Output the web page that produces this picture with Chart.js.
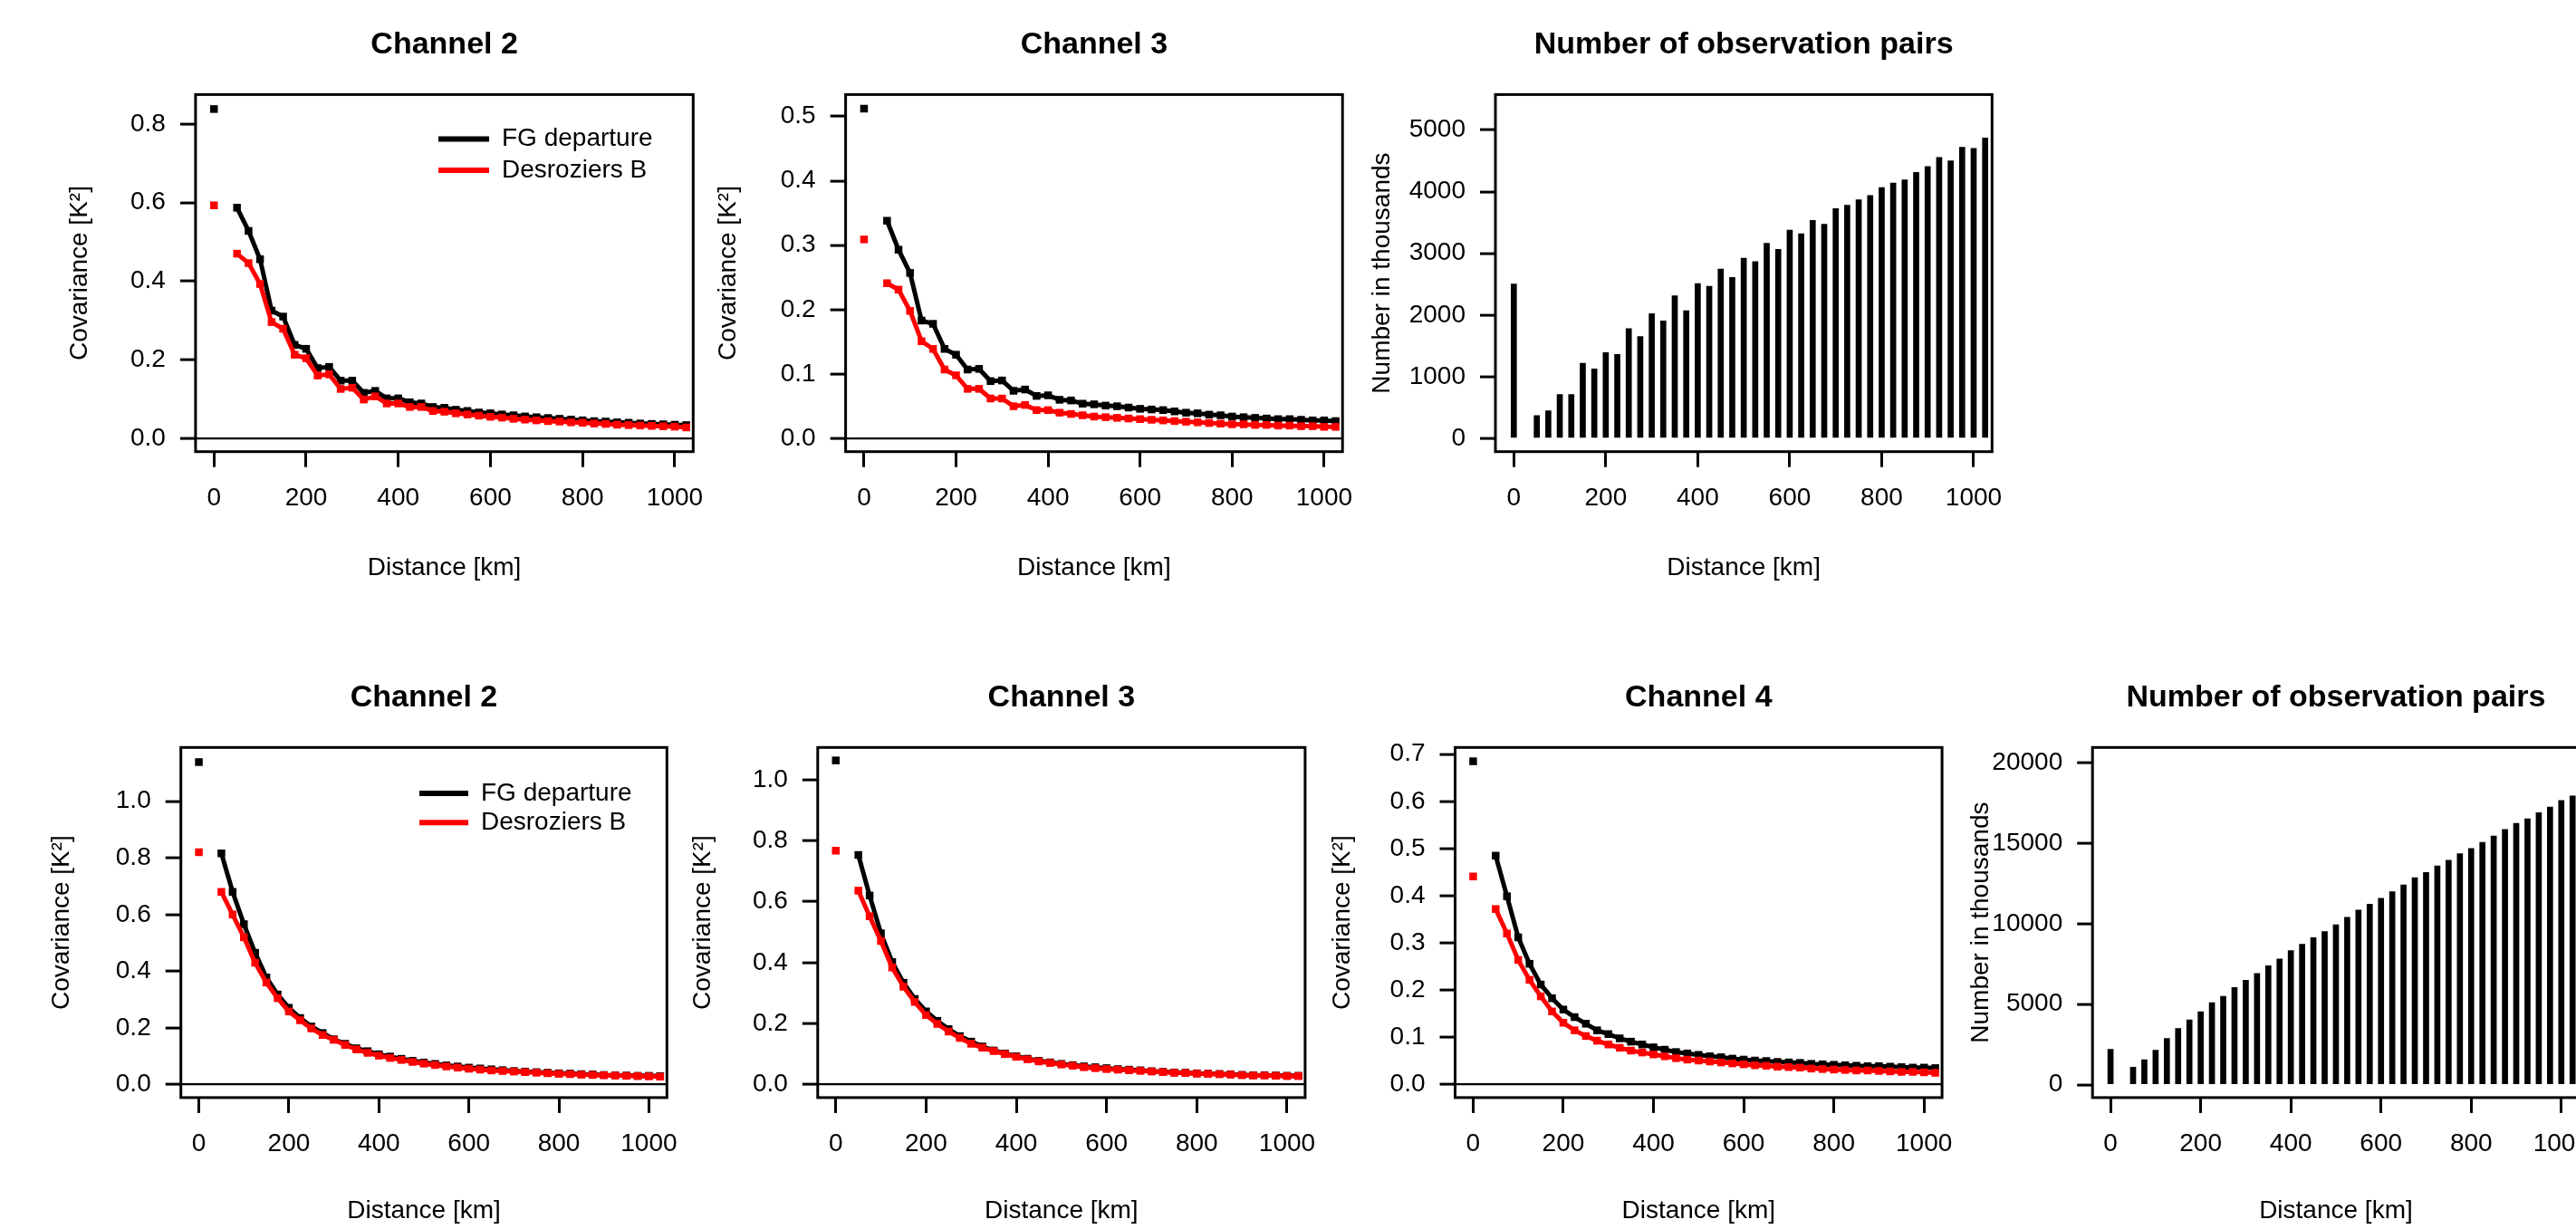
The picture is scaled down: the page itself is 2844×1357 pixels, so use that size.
<!DOCTYPE html>
<html>
<head>
<meta charset="utf-8">
<script src="https://cdn.jsdelivr.net/npm/chart.js@4.4.1/dist/chart.umd.min.js"></script>
<style>
html,body{margin:0;padding:0;background:#fff;overflow:hidden;}
#page{position:relative;width:2844px;height:1357px;overflow:hidden;background:#fff;}
canvas{position:absolute;}
</style>
</head>
<body>
<div id="page"></div>
<script>
// ---------------- DATA ----------------
const distances = [50,75,100,125,150,175,200,225,250,275,300,325,350,375,400,425,450,475,500,525,550,575,600,625,650,675,700,725,750,775,800,825,850,875,900,925,950,975,1000,1025];
const pairDistances = [0,50,75,100,125,150,175,200,225,250,275,300,325,350,375,400,425,450,475,500,525,550,575,600,625,650,675,700,725,750,775,800,825,850,875,900,925,950,975,1000,1025];
const xTicks = [0,200,400,600,800,1000];

// Top row
const top_ch2_fg0 = 0.838, top_ch2_db0 = 0.593;
const top_ch2_fg = [0.587,0.528,0.456,0.325,0.310,0.238,0.228,0.179,0.182,0.147,0.147,0.116,0.121,0.102,0.102,0.092,0.089,0.080,0.078,0.073,0.070,0.066,0.064,0.061,0.059,0.056,0.054,0.052,0.050,0.048,0.046,0.044,0.043,0.041,0.040,0.038,0.037,0.036,0.035,0.034];
const top_ch2_db = [0.470,0.446,0.393,0.296,0.279,0.213,0.204,0.160,0.163,0.126,0.129,0.099,0.107,0.089,0.089,0.080,0.080,0.070,0.068,0.064,0.061,0.058,0.055,0.053,0.050,0.048,0.046,0.044,0.043,0.041,0.040,0.038,0.037,0.035,0.034,0.033,0.032,0.031,0.030,0.028];
const top_ch2_yTicks = [0,0.2,0.4,0.6,0.8];

const top_ch3_fg0 = 0.512, top_ch3_db0 = 0.309;
const top_ch3_fg = [0.338,0.293,0.257,0.183,0.178,0.139,0.130,0.107,0.108,0.089,0.090,0.074,0.076,0.066,0.067,0.060,0.059,0.054,0.053,0.051,0.050,0.048,0.046,0.045,0.044,0.042,0.040,0.039,0.037,0.036,0.034,0.033,0.032,0.031,0.030,0.030,0.029,0.028,0.028,0.027];
const top_ch3_db = [0.241,0.231,0.198,0.151,0.139,0.107,0.098,0.077,0.077,0.062,0.062,0.050,0.052,0.044,0.044,0.040,0.038,0.036,0.034,0.033,0.032,0.031,0.030,0.029,0.028,0.027,0.026,0.025,0.024,0.023,0.022,0.022,0.021,0.021,0.020,0.020,0.019,0.019,0.018,0.018];
const top_ch3_yTicks = [0,0.1,0.2,0.3,0.4,0.5];

const top_pairs = [2503,371,445,711,711,1218,1125,1391,1360,1780,1650,2021,1904,2311,2070,2509,2466,2744,2608,2923,2868,3164,3066,3375,3319,3535,3473,3727,3782,3869,3937,4067,4141,4190,4314,4407,4555,4499,4722,4703,4870];
const top_pairs_yTicks = [0,1000,2000,3000,4000,5000];

// Bottom row
const bot_ch2_fg0 = 1.138, bot_ch2_db0 = 0.820;
const bot_ch2_fg = [0.816,0.680,0.566,0.465,0.378,0.318,0.271,0.235,0.205,0.182,0.160,0.144,0.128,0.118,0.107,0.099,0.091,0.084,0.078,0.073,0.068,0.064,0.060,0.057,0.054,0.051,0.048,0.046,0.044,0.042,0.040,0.039,0.037,0.036,0.034,0.033,0.032,0.031,0.031,0.030];
const bot_ch2_db = [0.680,0.600,0.520,0.430,0.360,0.305,0.258,0.227,0.198,0.175,0.158,0.140,0.124,0.112,0.102,0.094,0.087,0.080,0.074,0.069,0.064,0.060,0.056,0.053,0.050,0.048,0.046,0.044,0.042,0.040,0.038,0.037,0.035,0.034,0.033,0.032,0.031,0.030,0.029,0.028];
const bot_ch2_yTicks = [0,0.2,0.4,0.6,0.8,1.0];

const bot_ch3_fg0 = 1.063, bot_ch3_db0 = 0.767;
const bot_ch3_fg = [0.753,0.620,0.496,0.402,0.334,0.281,0.240,0.209,0.182,0.159,0.141,0.125,0.112,0.102,0.093,0.085,0.078,0.073,0.068,0.064,0.060,0.057,0.054,0.051,0.049,0.047,0.044,0.042,0.040,0.039,0.037,0.036,0.035,0.034,0.032,0.031,0.031,0.030,0.029,0.029];
const bot_ch3_db = [0.636,0.552,0.471,0.384,0.321,0.271,0.228,0.199,0.174,0.153,0.134,0.121,0.110,0.100,0.091,0.083,0.076,0.071,0.066,0.062,0.057,0.054,0.051,0.049,0.047,0.045,0.043,0.041,0.039,0.038,0.036,0.035,0.034,0.033,0.031,0.030,0.030,0.029,0.028,0.028];
const bot_ch3_yTicks = [0,0.2,0.4,0.6,0.8,1.0];

const bot_ch4_fg0 = 0.685, bot_ch4_db0 = 0.441;
const bot_ch4_fg = [0.485,0.399,0.312,0.256,0.212,0.183,0.159,0.143,0.129,0.115,0.107,0.098,0.091,0.085,0.079,0.074,0.069,0.066,0.063,0.060,0.058,0.055,0.053,0.051,0.050,0.048,0.047,0.046,0.044,0.043,0.042,0.041,0.040,0.039,0.039,0.038,0.037,0.036,0.036,0.035];
const bot_ch4_db = [0.372,0.320,0.264,0.222,0.187,0.155,0.131,0.115,0.103,0.093,0.085,0.078,0.072,0.068,0.064,0.060,0.056,0.053,0.051,0.049,0.047,0.045,0.043,0.041,0.040,0.038,0.037,0.036,0.034,0.033,0.032,0.031,0.030,0.030,0.029,0.028,0.027,0.027,0.026,0.025];
const bot_ch4_yTicks = [0,0.1,0.2,0.3,0.4,0.5,0.6,0.7];

const bot_pairs = [2193,1085,1557,2146,2877,3491,4033,4528,5094,5495,6038,6486,6910,7382,7807,8325,8726,9127,9505,9929,10401,10849,11203,11580,11981,12406,12854,13184,13585,13939,14340,14670,15047,15448,15849,16226,16509,16887,17241,17642,17925];
const bot_pairs_yTicks = [0,5000,10000,15000,20000];

// ---------------- RENDERING ----------------
Chart.defaults.font.family = "'Liberation Sans', Arial, Helvetica, sans-serif";
Chart.defaults.color = '#000';

const page = document.getElementById('page');
const FONT = 28, TFONT = 34;
const TOP_ROW = {cT: 0, H: 680, T: 104.4, B: 498.7, titleY: 49.5, xTitleY: 627.1};
const BOT_ROW = {cT: 700, H: 657, T: 825.3, B: 1211.9, titleY: 770.2, xTitleY: 1336.8};

const boxPlugin = {
  id: 'rbox',
  afterDraw(chart) {
    const {ctx, chartArea: a} = chart;
    ctx.save();
    ctx.strokeStyle = '#000';
    ctx.lineWidth = 3;
    ctx.strokeRect(a.left, a.top, a.right - a.left, a.bottom - a.top);
    ctx.restore();
  }
};

function makePanel(row, p) {
  const cL = Math.round(p.yTitleX - 40);
  const W = Math.ceil(p.R + 50 - cL);
  const H = row.H;
  const canvas = document.createElement('canvas');
  canvas.width = W; canvas.height = H;
  canvas.style.left = cL + 'px'; canvas.style.top = row.cT + 'px';
  canvas.style.width = W + 'px'; canvas.style.height = H + 'px';
  page.appendChild(canvas);

  const tLH = TFONT * 1.2, lh = FONT * 1.2;
  const titlePadTop = row.titleY - row.cT - tLH / 2;
  const titlePadBottom = row.T - row.cT - titlePadTop - tLH;
  const xTitlePadBottom = row.cT + H - row.xTitleY - lh / 2;
  const yTitlePadTop = p.yTitleX - cL - lh / 2;
  const yWidth = p.L - cL;
  const xHeight = row.cT + H - row.B;
  const padRight = cL + W - p.R;

  const plugins = [boxPlugin];
  let legendOpts = {display: false};
  if (p.legend) {
    const lg = p.legend;
    legendOpts = {
      display: true, position: 'chartArea', align: 'start',
      labels: {
        font: {size: FONT}, color: '#000', boxWidth: lg.w, boxHeight: 6, padding: lg.pad,
        filter: (item) => item.datasetIndex < 2,
        sort: (a, b) => a.datasetIndex - b.datasetIndex,
        generateLabels: (chart) => Chart.defaults.plugins.legend.labels.generateLabels(chart)
          .map(it => Object.assign(it, {lineWidth: 0, fillStyle: it.strokeStyle}))
      }
    };
    const left = lg.x - lg.pad - cL;
    const top = lg.y - FONT / 2 - lg.pad - row.cT;
    plugins.push({
      id: 'legendPos',
      beforeDraw(chart) {
        const L = chart.legend;
        if (!L) return;
        L.left = left; L.top = top; L.right = left + 500; L.bottom = top + 200;
        L.width = 500; L.height = 200;
      }
    });
  }

  const tickFmt = p.fmt;
  const config = {
    type: p.type,
    data: {datasets: p.datasets},
    options: {
      responsive: false, animation: false, devicePixelRatio: 1,
      events: [],
      layout: {padding: {left: 0, top: 0, right: padRight, bottom: 0}},
      plugins: {
        title: {display: true, text: p.title, fullSize: false, color: '#000',
          font: {size: TFONT, weight: 'bold'}, padding: {top: titlePadTop, bottom: titlePadBottom}},
        legend: legendOpts,
        tooltip: {enabled: false}
      },
      scales: {
        x: {
          type: 'linear', min: -40, max: 1040, offset: false,
          afterBuildTicks: (s) => { s.ticks = xTicks.map(v => ({value: v})); },
          afterFit: (s) => { s.height = xHeight; },
          ticks: {font: {size: FONT}, color: '#000', padding: 18, autoSkip: false, maxRotation: 0, minRotation: 0,
            callback: (v) => String(v)},
          grid: {display: true, drawOnChartArea: false, drawTicks: true, tickLength: 17, tickWidth: 3,
            tickColor: '#000', offset: false},
          border: {display: false},
          title: {display: true, text: 'Distance [km]', color: '#000', font: {size: FONT},
            padding: {top: 0, bottom: xTitlePadBottom}}
        },
        y: {
          type: 'linear', min: p.yMin, max: p.yMax, beginAtZero: false,
          afterBuildTicks: (s) => { s.ticks = p.yTicks.map(v => ({value: v})); },
          afterFit: (s) => { s.width = yWidth; },
          ticks: {font: {size: FONT}, color: '#000', padding: 16, autoSkip: false, callback: tickFmt},
          grid: {display: true, drawOnChartArea: !!p.zeroLine, drawTicks: true, tickLength: 17, tickWidth: 3,
            tickColor: '#000',
            color: (c) => (c.tick && c.tick.value === 0) ? '#000' : 'rgba(0,0,0,0)',
            lineWidth: 2.2},
          border: {display: false},
          title: {display: true, text: p.yTitle, color: '#000', font: {size: FONT},
            padding: {top: yTitlePadTop, bottom: 0}}
        }
      }
    },
    plugins: plugins
  };
  return new Chart(canvas, config);
}

function covDatasets(fg0, db0, fg, db) {
  const common = {borderWidth: 5, pointStyle: 'rect', pointRadius: 6, pointHoverRadius: 6,
    pointBorderWidth: 0, tension: 0, clip: false};
  return [
    Object.assign({label: 'FG departure', data: distances.map((d, i) => ({x: d, y: fg[i]})),
      borderColor: '#000000', backgroundColor: '#000000', order: 2}, common),
    Object.assign({label: 'Desroziers B', data: distances.map((d, i) => ({x: d, y: db[i]})),
      borderColor: '#ff0000', backgroundColor: '#ff0000', order: 1}, common),
    Object.assign({}, common, {label: 'FG departure (0 km)', data: [{x: 0, y: fg0}], showLine: false,
      borderColor: '#000000', backgroundColor: '#000000', pointRadius: 6, order: 3}),
    Object.assign({}, common, {label: 'Desroziers B (0 km)', data: [{x: 0, y: db0}], showLine: false,
      borderColor: '#ff0000', backgroundColor: '#ff0000', pointRadius: 6, order: 3})
  ];
}
function barDatasets(vals) {
  return [{label: 'Number of observation pairs', data: pairDistances.map((d, i) => ({x: d, y: vals[i]})),
    backgroundColor: '#000', borderWidth: 0, barThickness: 6}];
}
const fmt1 = (v) => Number(v).toFixed(1);
const fmt0 = (v) => String(v);
const COV = 'Covariance [K\u00B2]';
const NUM = 'Number in thousands';

// Top row
makePanel(TOP_ROW, {type: 'line', title: 'Channel 2', L: 215.9, R: 765.3, yTitleX: 87.8,
  yMin: -0.0336, yMax: 0.8748, yTicks: top_ch2_yTicks, fmt: fmt1, yTitle: COV, zeroLine: true,
  datasets: covDatasets(top_ch2_fg0, top_ch2_db0, top_ch2_fg, top_ch2_db),
  legend: {x: 484, y: 153.6, w: 56, pad: 6.5}});
makePanel(TOP_ROW, {type: 'line', title: 'Channel 3', L: 933.6, R: 1482.2, yTitleX: 804.6,
  yMin: -0.0205, yMax: 0.5339, yTicks: top_ch3_yTicks, fmt: fmt1, yTitle: COV, zeroLine: true,
  datasets: covDatasets(top_ch3_fg0, top_ch3_db0, top_ch3_fg, top_ch3_db)});
makePanel(TOP_ROW, {type: 'bar', title: 'Number of observation pairs', L: 1651.0, R: 2199.3, yTitleX: 1526,
  yMin: -216, yMax: 5575, yTicks: top_pairs_yTicks, fmt: fmt0, yTitle: NUM, zeroLine: false,
  datasets: barDatasets(top_pairs)});

// Bottom row
makePanel(BOT_ROW, {type: 'line', title: 'Channel 2', L: 199.7, R: 736.3, yTitleX: 67.9,
  yMin: -0.0458, yMax: 1.1896, yTicks: bot_ch2_yTicks, fmt: fmt1, yTitle: COV, zeroLine: true,
  datasets: covDatasets(bot_ch2_fg0, bot_ch2_db0, bot_ch2_fg, bot_ch2_db),
  legend: {x: 463, y: 876, w: 54, pad: 4.3}});
makePanel(BOT_ROW, {type: 'line', title: 'Channel 3', L: 902.8, R: 1440.9, yTitleX: 776.4,
  yMin: -0.0425, yMax: 1.1055, yTicks: bot_ch3_yTicks, fmt: fmt1, yTitle: COV, zeroLine: true,
  datasets: covDatasets(bot_ch3_fg0, bot_ch3_db0, bot_ch3_fg, bot_ch3_db)});
makePanel(BOT_ROW, {type: 'line', title: 'Channel 4', L: 1606.5, R: 2144.1, yTitleX: 1482,
  yMin: -0.0275, yMax: 0.7143, yTicks: bot_ch4_yTicks, fmt: fmt1, yTitle: COV, zeroLine: true,
  datasets: covDatasets(bot_ch4_fg0, bot_ch4_db0, bot_ch4_fg, bot_ch4_db)});
makePanel(BOT_ROW, {type: 'bar', title: 'Number of observation pairs', L: 2310.2, R: 2847.7, yTitleX: 2187.6,
  yMin: -800, yMax: 20940, yTicks: bot_pairs_yTicks, fmt: fmt0, yTitle: NUM, zeroLine: false,
  datasets: barDatasets(bot_pairs)});
</script>
</body>
</html>
